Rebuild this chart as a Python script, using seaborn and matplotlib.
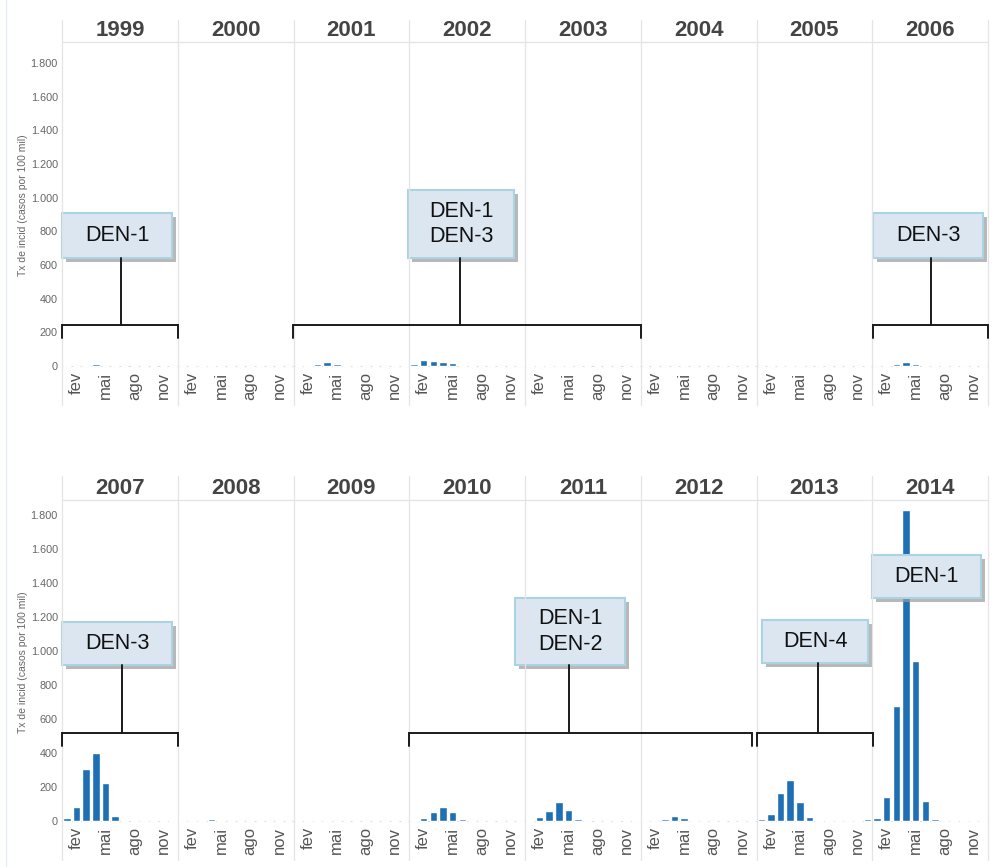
import numpy as np
import pandas as pd
import matplotlib
matplotlib.use('Agg')
import matplotlib.pyplot as plt
from matplotlib.patches import Rectangle
import seaborn as sns

sns.set_style('white')
plt.rcParams['font.family'] = ['Liberation Sans', 'DejaVu Sans']

# ---- data (monthly incidence, casos por 100 mil) ----
months = list(range(1, 13))
tick_months = [2, 5, 8, 11]
tick_labels = ['fev', 'mai', 'ago', 'nov']
y_ticks = [0, 200, 400, 600, 800, 1000, 1200, 1400, 1600, 1800]
y_tick_labels = ['0', '200', '400', '600', '800', '1.000', '1.200', '1.400', '1.600', '1.800']

years_top = [1999, 2000, 2001, 2002, 2003, 2004, 2005, 2006]
years_bottom = [2007, 2008, 2009, 2010, 2011, 2012, 2013, 2014]

inc_1999 = [0, 0, 6, 9, 0, 0, 0, 0, 0, 0, 0, 0]
inc_2000 = [0, 0, 6, 6, 0, 0, 0, 0, 0, 0, 0, 0]
inc_2001 = [5, 5, 14, 22, 12, 6, 0, 0, 0, 0, 0, 6]
inc_2002 = [10, 34, 32, 26, 16, 6, 0, 0, 0, 0, 0, 6]
inc_2003 = [6, 7, 8, 8, 6, 0, 0, 0, 0, 0, 0, 0]
inc_2004 = [0, 0, 0, 0, 0, 0, 0, 0, 0, 0, 0, 0]
inc_2005 = [0, 0, 6, 6, 5, 0, 0, 0, 0, 0, 0, 0]
inc_2006 = [0, 6, 14, 22, 9, 6, 0, 6, 0, 6, 0, 0]
inc_2007 = [15, 85, 305, 400, 225, 28, 6, 6, 6, 7, 7, 6]
inc_2008 = [6, 6, 6, 12, 6, 0, 0, 0, 0, 0, 0, 0]
inc_2009 = [6, 6, 6, 6, 0, 0, 0, 0, 0, 0, 0, 0]
inc_2010 = [6, 20, 55, 85, 55, 9, 0, 0, 0, 0, 0, 0]
inc_2011 = [6, 22, 60, 110, 63, 12, 6, 0, 0, 6, 6, 6]
inc_2012 = [6, 6, 14, 30, 18, 7, 6, 0, 0, 0, 0, 6]
inc_2013 = [12, 44, 162, 241, 113, 24, 6, 6, 6, 6, 6, 9]
inc_2014 = [18, 142, 676, 1830, 939, 117, 12, 6, 6, 6, 6, 6]

series = [inc_1999, inc_2000, inc_2001, inc_2002, inc_2003, inc_2004, inc_2005, inc_2006,
          inc_2007, inc_2008, inc_2009, inc_2010, inc_2011, inc_2012, inc_2013, inc_2014]
rows_list = []
for yr, vals in zip(years_top + years_bottom, series):
    for m, v in zip(months, vals):
        rows_list.append({'year': yr, 'month': m, 'value': v})
df = pd.DataFrame(rows_list)

# ---- layout (pixels) ----
W_PX, H_PX = 997, 867
LEFT, RIGHT = 62, 988
PW = (RIGHT - LEFT) / 8
BLUE = '#1f6fb4'
SEP = '#e4e4e4'

rows = [
    dict(years=years_top, top=42, bottom=368, zero=366, full=63, title_y=31,
         sep_top=20, sep_bottom=405, ylab_y=205),
    dict(years=years_bottom, top=500, bottom=823, zero=821, full=515, title_y=488,
         sep_top=476, sep_bottom=860, ylab_y=662),
]

fig = plt.figure(figsize=(W_PX / 100, H_PX / 100), dpi=100)


def add_px_axes(x0, y0, w, h):
    return fig.add_axes([x0 / W_PX, 1 - (y0 + h) / H_PX, w / W_PX, h / H_PX])


for r in rows:
    k = 1800 / (r['zero'] - r['full'])  # units per pixel
    ylim = (-(r['bottom'] - r['zero']) * k, (r['zero'] - r['top']) * k)
    for i, yr in enumerate(r['years']):
        x0 = LEFT + i * PW
        ax = add_px_axes(x0, r['top'], PW, r['bottom'] - r['top'])
        ax.patch.set_alpha(0)
        sns.barplot(data=df[df.year == yr], x='month', y='value', order=months,
                    color=BLUE, saturation=1, width=0.78, ax=ax, errorbar=None)
        ax.axhline(0, color='#dddddd', lw=0.8, zorder=0)
        ax.set_xlim(-0.5, 11.5)
        ax.set_ylim(*ylim)
        ax.set_xticks([m - 1 for m in tick_months])
        ax.set_xticklabels(tick_labels, rotation=90, fontsize=12, color='#555555')
        ax.tick_params(axis='both', length=0, pad=3)
        if i == 0:
            ax.set_yticks(y_ticks)
            ax.set_yticklabels(y_tick_labels, fontsize=7.8, color='#666666')
        else:
            ax.set_yticks([])
        ax.set_xlabel('')
        ax.set_ylabel('')
        for s in ax.spines.values():
            s.set_visible(False)
        fig.text((x0 + PW / 2) / W_PX, 1 - r['title_y'] / H_PX, str(yr),
                 ha='center', va='center', fontsize=16, fontweight='bold', color='#444444')
    fig.text(23 / W_PX, 1 - r['ylab_y'] / H_PX, 'Tx de incid (casos por 100 mil)',
             rotation=90, ha='center', va='center', fontsize=7.5, color='#666666')

# ---- overlay: separators, brackets, serotype boxes ----
ov = fig.add_axes([0, 0, 1, 1], zorder=10)
ov.set_xlim(0, W_PX)
ov.set_ylim(H_PX, 0)
ov.axis('off')
ov.patch.set_alpha(0)

ov.plot([6, 6], [0, H_PX], color='#e6ecf5', lw=1)
for r in rows:
    for i in range(9):
        xs = LEFT + i * PW
        ov.plot([xs, xs], [r['sep_top'], r['sep_bottom']], color=SEP, lw=0.9)
    ov.plot([LEFT, RIGHT], [r['top'], r['top']], color=SEP, lw=0.9)

annotations = [
    dict(label='DEN-1', x0=62, x1=178, by=325, stem=121, box=(62, 213, 110, 45)),
    dict(label='DEN-1\nDEN-3', x0=293, x1=641, by=325, stem=460, box=(408, 190, 106, 68)),
    dict(label='DEN-3', x0=873, x1=988, by=325, stem=931, box=(873, 213, 110, 45)),
    dict(label='DEN-3', x0=62, x1=178, by=733, stem=122, box=(62, 622, 110, 43)),
    dict(label='DEN-1\nDEN-2', x0=409, x1=752, by=733, stem=569, box=(515, 598, 110, 67)),
    dict(label='DEN-4', x0=757, x1=873, by=733, stem=818, box=(762, 620, 106, 43)),
    dict(label='DEN-1', x0=None, x1=None, by=None, stem=None, box=(872, 555, 109, 43)),
]

for a in annotations:
    bx, by_, bw, bh = a['box']
    if a['x0'] is not None:
        ov.plot([a['x0'], a['x0'], a['x1'], a['x1']],
                [a['by'] + 13, a['by'], a['by'], a['by'] + 13],
                color='#1a1a1a', lw=1.4, solid_joinstyle='miter')
        ov.plot([a['stem'], a['stem']], [by_ + bh, a['by']], color='#1a1a1a', lw=1.4)
    ov.add_patch(Rectangle((bx + 4, by_ + 4), bw, bh, facecolor='#9a9a9a',
                           edgecolor='none', alpha=0.7))
    ov.add_patch(Rectangle((bx, by_), bw, bh, facecolor='#dce6f1',
                           edgecolor='#aad4e4', lw=1.5))
    ov.text(bx + bw / 2, by_ + bh / 2, a['label'], ha='center', va='center',
            fontsize=15.5, color='#111111', linespacing=1.25)

fig.savefig('out.png', dpi=100, facecolor='white')
